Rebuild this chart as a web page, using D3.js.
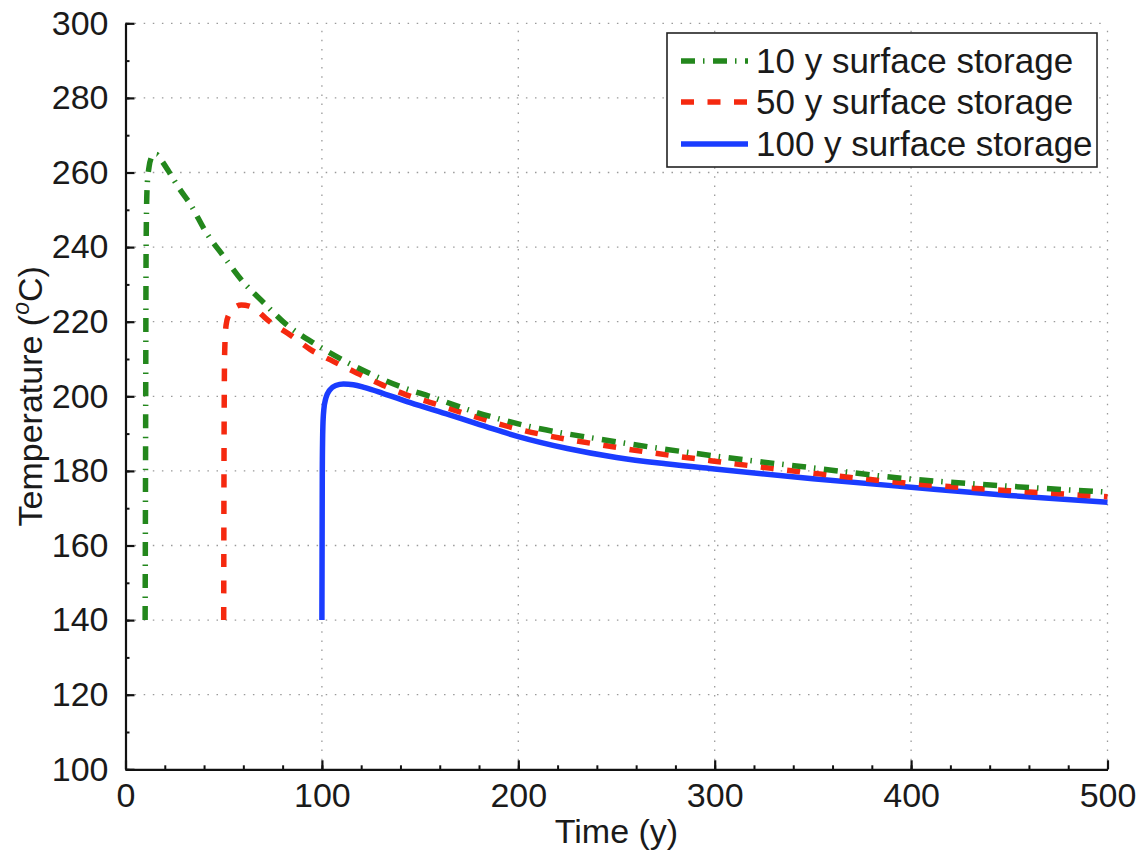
<!DOCTYPE html>
<html>
<head>
<meta charset="utf-8">
<script src="https://cdn.jsdelivr.net/npm/d3@7/dist/d3.min.js"></script>
<style>
  html, body { margin: 0; padding: 0; background: #fff; }
  svg { display: block; }
  text { font-family: "Liberation Sans", Arial, Helvetica, sans-serif; fill: #1a1a1a; }
</style>
</head>
<body>
<svg id="chart" width="1142" height="855"></svg>
<script>
// Time axis (years) and temperature (°C) samples for each storage scenario
const time10 = [10, 10.2, 10.5, 11, 12, 13, 14.5, 16, 18, 22, 27, 33, 41, 50, 60, 70, 82, 96, 110, 126, 140, 156, 175, 200, 250, 300, 350, 400, 450, 500];
const temp10 = [140, 180, 240, 256, 261.5, 263.8, 264.9, 264.8, 263.5, 260.3, 256, 251.5, 244, 237.5, 230.6, 225.3, 219.2, 214.2, 209.9, 205.7, 202.6, 199.8, 196.3, 192.6, 187.8, 184, 180.8, 177.8, 175.9, 174.3];

const time50 = [50, 50.2, 50.5, 51.2, 52.5, 55, 59, 63, 67, 72, 84, 94, 106, 118, 131, 143, 155, 175, 200, 250, 300, 350, 400, 450, 500];
const temp50 = [140, 190, 212, 219, 221.8, 223.5, 224.5, 224.2, 223, 220.6, 216.4, 212.6, 209.3, 206.2, 203, 200.4, 198.4, 195, 191.2, 186.3, 182.6, 179.4, 176.6, 174.7, 173.1];

const time100 = [100, 100.2, 100.5, 101, 102, 104, 107, 111, 116, 122, 131, 145, 165, 185, 200, 225, 250, 275, 300, 350, 400, 450, 500];
const temp100 = [140, 180, 192, 196.5, 199.5, 201.7, 202.9, 203.3, 203.1, 202.3, 200.8, 198.3, 195, 191.6, 189.2, 186, 183.6, 181.9, 180.5, 177.9, 175.6, 173.4, 171.6];

const seriesNames = ["10 y surface storage", "50 y surface storage", "100 y surface storage"];

const xMajorTicks = [0, 100, 200, 300, 400, 500];
const xMinorTicks = d3.range(0, 501, 20);
const yMajorTicks = [100, 120, 140, 160, 180, 200, 220, 240, 260, 280, 300];
const yMinorTicks = d3.range(100, 301, 10);

const xLabel = "Time (y)";

// Styling for each scenario
const styles = [
  { color: "#23871c", dash: "14,8,1.5,8.5", width: 5.5 },
  { color: "#f5290f", dash: "13,13.5", width: 5.5 },
  { color: "#1a3cff", dash: null, width: 5.5 }
];

const FONT = 34;

const svg = d3.select("#chart");

const x = d3.scaleLinear().domain([0, 500]).range([125.5, 1107.5]);
const y = d3.scaleLinear().domain([100, 300]).range([769.3, 23.3]);

// Dotted grid
const grid = svg.append("g").attr("class", "grid")
  .attr("stroke", "#9a9a9a").attr("stroke-width", 1.3)
  .attr("stroke-dasharray", "1.5,7.6").attr("fill", "none");

grid.selectAll("line.gx").data(xMajorTicks.filter(d => d > 0)).join("line")
  .attr("class", "gx")
  .attr("x1", d => x(d)).attr("x2", d => x(d))
  .attr("y1", y(100)).attr("y2", y(300));

grid.selectAll("line.gy").data(yMajorTicks.filter(d => d > 100)).join("line")
  .attr("class", "gy")
  .attr("x1", x(0)).attr("x2", x(500))
  .attr("y1", d => y(d)).attr("y2", d => y(d));

// Minor ticks (inward, no labels)
svg.append("g").attr("transform", `translate(0,${y(100)})`)
  .call(d3.axisBottom(x).tickValues(xMinorTicks).tickSize(-4).tickSizeOuter(0).tickFormat(""))
  .call(g => g.select(".domain").remove())
  .call(g => g.selectAll("line").attr("stroke", "#111").attr("stroke-width", 2));

svg.append("g").attr("transform", `translate(${x(0)},0)`)
  .call(d3.axisLeft(y).tickValues(yMinorTicks).tickSize(-4).tickSizeOuter(0).tickFormat(""))
  .call(g => g.select(".domain").remove())
  .call(g => g.selectAll("line").attr("stroke", "#111").attr("stroke-width", 2));

// Major axes
const xAxis = svg.append("g").attr("transform", `translate(0,${y(100)})`)
  .call(d3.axisBottom(x).tickValues(xMajorTicks).tickSize(-9).tickSizeOuter(0).tickPadding(14).tickFormat(d3.format("d")));
const yAxis = svg.append("g").attr("transform", `translate(${x(0)},0)`)
  .call(d3.axisLeft(y).tickValues(yMajorTicks).tickSize(-9).tickSizeOuter(0).tickPadding(17).tickFormat(d3.format("d")));

[xAxis, yAxis].forEach(a => {
  a.select(".domain").attr("stroke", "#111").attr("stroke-width", 2.2);
  a.selectAll(".tick line").attr("stroke", "#111").attr("stroke-width", 2.2);
  a.selectAll(".tick text")
    .attr("font-size", FONT)
    .attr("font-family", "'Liberation Sans', Arial, Helvetica, sans-serif")
    .attr("fill", "#1a1a1a");
});

// Axis titles
svg.append("text")
  .attr("x", (x(0) + x(500)) / 2).attr("y", 843)
  .attr("text-anchor", "middle").attr("font-size", FONT)
  .text(xLabel);

const yTitle = svg.append("text")
  .attr("transform", `translate(42,${(y(100) + y(300)) / 2}) rotate(-90)`)
  .attr("text-anchor", "middle").attr("font-size", FONT);
yTitle.append("tspan").text("Temperature (");
yTitle.append("tspan").attr("font-size", 23).attr("font-style", "italic").attr("dy", -13).text("o");
yTitle.append("tspan").attr("dy", 13).text("C)");

// Curves
const line = d3.line().x(d => x(d[0])).y(d => y(d[1])).curve(d3.curveMonotoneX);
const datasets = [
  d3.zip(time10, temp10),
  d3.zip(time50, temp50),
  d3.zip(time100, temp100)
];

// draw blue first so dashed curves sit on top
[2, 1, 0].forEach(i => {
  svg.append("path")
    .datum(datasets[i])
    .attr("fill", "none")
    .attr("stroke", styles[i].color)
    .attr("stroke-width", styles[i].width)
    .attr("stroke-dasharray", styles[i].dash)
    .attr("stroke-linejoin", "round")
    .attr("d", line);
});

// Legend
const legend = svg.append("g").attr("class", "legend");
legend.append("rect")
  .attr("x", 667).attr("y", 33).attr("width", 430).attr("height", 134)
  .attr("fill", "#fff").attr("stroke", "#222").attr("stroke-width", 1.6);

const rowY = [61, 102, 144];
seriesNames.forEach((name, i) => {
  legend.append("line")
    .attr("x1", 681).attr("x2", 748)
    .attr("y1", rowY[i]).attr("y2", rowY[i])
    .attr("stroke", styles[i].color)
    .attr("stroke-width", styles[i].width)
    .attr("stroke-dasharray", styles[i].dash);
  legend.append("text")
    .attr("x", 756).attr("y", rowY[i] + 12)
    .attr("font-size", 35)
    .text(name);
});
</script>
</body>
</html>
